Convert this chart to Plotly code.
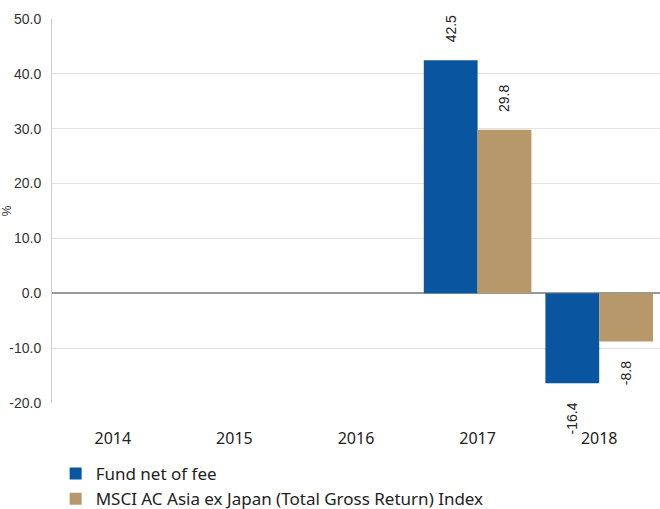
import plotly.graph_objects as go

years = ["2014", "2015", "2016", "2017", "2018"]
fund = [None, None, None, 42.5, -16.4]
index = [None, None, None, 29.8, -8.8]
fund_name = "Fund net of fee"
index_name = "MSCI AC Asia ex Japan (Total Gross Return) Index"
y_ticks = [-20, -10, 0, 10, 20, 30, 40, 50]
y_tick_labels = [f"{v:.1f}" for v in y_ticks]
fund_color = "#0A559F"
index_color = "#B7986B"

fig = go.Figure()
fig.add_bar(x=years, y=fund, name=fund_name, marker=dict(color=fund_color, line=dict(width=0)))
fig.add_bar(x=years, y=index, name=index_name, marker=dict(color=index_color, line=dict(width=0)))

for vals, xs in ((fund, -27), (index, 27)):
    for i, v in enumerate(vals):
        if v is None:
            continue
        txt = f"{v:.1f}"
        half = len(txt) * 3.6
        shift = 17 + half
        fig.add_annotation(x=i, y=v, text=txt, showarrow=False, textangle=-90,
                           xshift=xs, yshift=shift if v > 0 else -shift,
                           font=dict(family="Liberation Sans, Arial", size=14, color="#222"))

fig.update_layout(
    width=660, height=509,
    margin=dict(l=52, r=0, t=19, b=106, autoexpand=False),
    paper_bgcolor="white", plot_bgcolor="white",
    barmode="group", bargap=0.115, bargroupgap=0,
    showlegend=True,
    legend=dict(orientation="v", x=0.006, xanchor="left",
                yref="container", y=0.104, yanchor="top",
                font=dict(family="Noto Sans, Open Sans", size=17, color="#222"),
                itemsizing="constant", tracegroupgap=0, bgcolor="rgba(0,0,0,0)"),
    xaxis=dict(type="category", range=[-0.5, 4.5], autorange=False, automargin=False,
               showgrid=False, showline=False, ticks="",
               tickfont=dict(family="Noto Sans, Open Sans", size=16, color="#222"),
               ticklabelstandoff=24),
    yaxis=dict(range=[-20, 50], autorange=False, automargin=False,
               tickvals=y_ticks, ticktext=y_tick_labels,
               showgrid=True, gridcolor="#e3e3e3", gridwidth=1,
               zeroline=True, zerolinecolor="#999999", zerolinewidth=2,
               showline=True, linecolor="#cccccc", linewidth=1,
               ticks="", ticklabelstandoff=7,
               tickfont=dict(family="Liberation Sans, Arial", size=14, color="#333"),
               title=dict(text="%", font=dict(family="Liberation Sans, Arial", size=12, color="#333"), standoff=3)),
)

fig.write_html("out.html")
